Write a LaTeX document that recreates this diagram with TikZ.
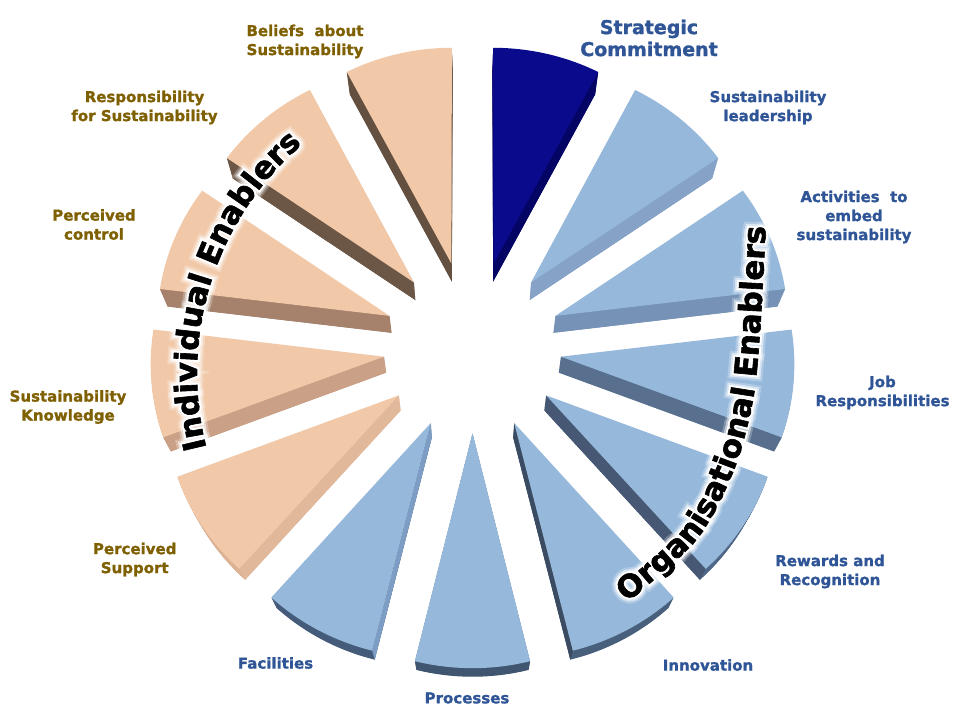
\documentclass[tikz,border=0pt]{standalone}
\usepackage{fontspec}
\setmainfont{DejaVu Sans}
\newfontfamily\lblfont{DejaVu Sans Bold}[FakeBold=1.2]
\newfontfamily\curvefont{DejaVu Sans Bold}[FakeBold=2]
\newfontfamily\glowA{DejaVu Sans Bold}[FakeBold=40]
\newfontfamily\glowB{DejaVu Sans Bold}[FakeBold=27]
\newfontfamily\glowC{DejaVu Sans Bold}[FakeBold=15]
\usetikzlibrary{decorations.text}
\definecolor{lblgold}{RGB}{127,96,0}
\definecolor{lblblue}{RGB}{47,85,151}
\definecolor{peachtop}{RGB}{241,200,168}
\definecolor{bluetop}{RGB}{149,184,219}
\definecolor{navytop}{RGB}{10,10,140}
\definecolor{navyside}{RGB}{4,4,100}
\definecolor{bA1}{RGB}{125,155,192}\definecolor{eA1}{RGB}{134,162,198}
\definecolor{bA2}{RGB}{110,140,178}\definecolor{eA2}{RGB}{118,146,182}
\definecolor{bA3}{RGB}{100,130,168}\definecolor{eA3}{RGB}{88,112,142}
\definecolor{bA4}{RGB}{80,104,136}\definecolor{eA4}{RGB}{70,88,115}
\definecolor{bA5}{RGB}{72,96,124}\definecolor{eA5}{RGB}{58,75,98}
\definecolor{bA6}{RGB}{64,86,112}
\definecolor{bA7}{RGB}{68,92,122}\definecolor{eA7}{RGB}{125,157,196}
\definecolor{bA8}{RGB}{220,178,148}\definecolor{eA8}{RGB}{226,184,154}
\definecolor{bA9}{RGB}{185,146,120}\definecolor{eA9}{RGB}{202,160,134}
\definecolor{bA10}{RGB}{150,118,96}\definecolor{eA10}{RGB}{166,130,108}
\definecolor{bA11}{RGB}{110,88,72}\definecolor{eA11}{RGB}{108,86,70}
\definecolor{bA12}{RGB}{100,80,64}\definecolor{eA12}{RGB}{100,80,64}
\tikzset{
  declare function={
    px(\u,\v,\w)=472.5+\u/(1+(0.2588*\v+0.9659*\w)/2464);
    py(\u,\v,\w)=373.7+(0.9659*\v-0.2588*\w)/(1+(0.2588*\v+0.9659*\w)/2464);
  },
  lab/.style={font=\lblfont\fontsize{15}{19}\selectfont, align=center, inner sep=0pt},
  biglab/.style={font=\lblfont\fontsize{19}{22}\selectfont, align=center, inner sep=0pt},
}
\newcommand\wpath[1]{({px(\tu,\tv,#1)},{py(\tu,\tv,#1)}) -- plot[variable=\ang,domain=\aA:\aB,samples=36] ({px(\tu+233*cos(\ang),\tv+233*sin(\ang),#1)},{py(\tu+233*cos(\ang),\tv+233*sin(\ang),#1)}) -- cycle}
\newcommand\edgeq[2]{%
  \fill[#2] ({px(\tu,\tv,0)},{py(\tu,\tv,0)}) -- ({px(\tu+233*cos(#1),\tv+233*sin(#1),0)},{py(\tu+233*cos(#1),\tv+233*sin(#1),0)}) -- ({px(\tu+233*cos(#1),\tv+233*sin(#1),64)},{py(\tu+233*cos(#1),\tv+233*sin(#1),64)}) -- ({px(\tu,\tv,64)},{py(\tu,\tv,64)}) -- cycle;}
\newcommand\piewedge[5]{%
  \pgfmathsetmacro\aA{90-#1*360/13}%
  \pgfmathsetmacro\aB{\aA-360/13}%
  \pgfmathsetmacro\bb{\aA-180/13}%
  \pgfmathsetmacro\tu{89*cos(\bb)}%
  \pgfmathsetmacro\tv{89*sin(\bb)}%
  \foreach \w in {4,8,...,64}{\fill[#3] \wpath{\w};}%
  \ifcase#5\or\edgeq{\aA}{#4}\or\edgeq{\aB}{#4}\fi
  \fill[#2] \wpath{0};}
% curved text with glow: #1 text, #2 path
\newcommand\glowtext[2]{%
  \begin{scope}[opacity=0.25]
  \path[decorate, decoration={text along path, text align=center,
    text={|\glowA\fontsize{31}{31}\selectfont\color{white}|#1}}] #2;
  \end{scope}
  \begin{scope}[opacity=0.5]
  \path[decorate, decoration={text along path, text align=center,
    text={|\glowB\fontsize{31}{31}\selectfont\color{white}|#1}}] #2;
  \end{scope}
  \path[decorate, decoration={text along path, text align=center,
    text={|\glowC\fontsize{31}{31}\selectfont\color{white}|#1}}] #2;
  \path[decorate, decoration={text along path, text align=center,
    text={|\curvefont\fontsize{31}{31}\selectfont\color{black}|#1}}] #2;}
\begin{document}
\begin{tikzpicture}[x=1pt,y=1pt]
\useasboundingbox (0,0) rectangle (960,720);
\fill[white] (0,0) rectangle (960,720);
% wedges
\piewedge{0}{navytop}{navyside}{navyside}{2}
\piewedge{1}{bluetop}{bA1}{eA1}{2}
\piewedge{2}{bluetop}{bA2}{eA2}{2}
\piewedge{3}{bluetop}{bA3}{eA3}{2}
\piewedge{4}{bluetop}{bA4}{eA4}{2}
\piewedge{5}{bluetop}{bA5}{eA5}{2}
\piewedge{6}{bluetop}{bA6}{black}{0}
\piewedge{7}{bluetop}{bA7}{eA7}{1}
\piewedge{8}{peachtop}{bA8}{eA8}{1}
\piewedge{9}{peachtop}{bA9}{eA9}{1}
\piewedge{10}{peachtop}{bA10}{eA10}{1}
\piewedge{11}{peachtop}{bA11}{eA11}{1}
\piewedge{12}{peachtop}{bA12}{eA12}{1}
% curved group titles
\glowtext{Individual Enablers}{(498,347) ++(201:301) arc[start angle=201, end angle=124, radius=301]}
\glowtext{Organisational Enablers}{plot[smooth] coordinates {(604,98) (628,118) (697,181) (734,250) (753,320) (760,389) (766,498) (767,524)}}
% labels
\node[biglab, text=lblblue] (strategic) at (649,682) {Strategic\\Commitment};
\node[lab, text=lblblue] (leader) at (768,612.5) {Sustainability\\leadership};
\node[lab, text=lblblue] (activities) at (854,503) {Activities\hspace{0.35em} to\\embed\\sustainability};
\node[lab, text=lblblue] (job) at (882.5,327.5) {Job\\Responsibilities};
\node[lab, text=lblblue] (rewards) at (830,148.5) {Rewards and\\Recognition};
\node[lab, text=lblblue] (innovation) at (708,55) {Innovation};
\node[lab, text=lblblue] (processes) at (467,22) {Processes};
\node[lab, text=lblblue] (facilities) at (275.5,57) {Facilities};
\node[lab, text=lblgold] (support) at (134.7,160.5) {Perceived\\Support};
\node[lab, text=lblgold] (knowledge) at (68,313) {Sustainability\\Knowledge};
\node[lab, text=lblgold] (control) at (94,495.5) {Perceived\\control};
\node[lab, text=lblgold] (responsibility) at (144.5,612.5) {Responsibility\\for Sustainability};
\node[lab, text=lblgold] (beliefs) at (305,678.5) {Beliefs\hspace{0.35em} about\\Sustainability};
\end{tikzpicture}
\end{document}
